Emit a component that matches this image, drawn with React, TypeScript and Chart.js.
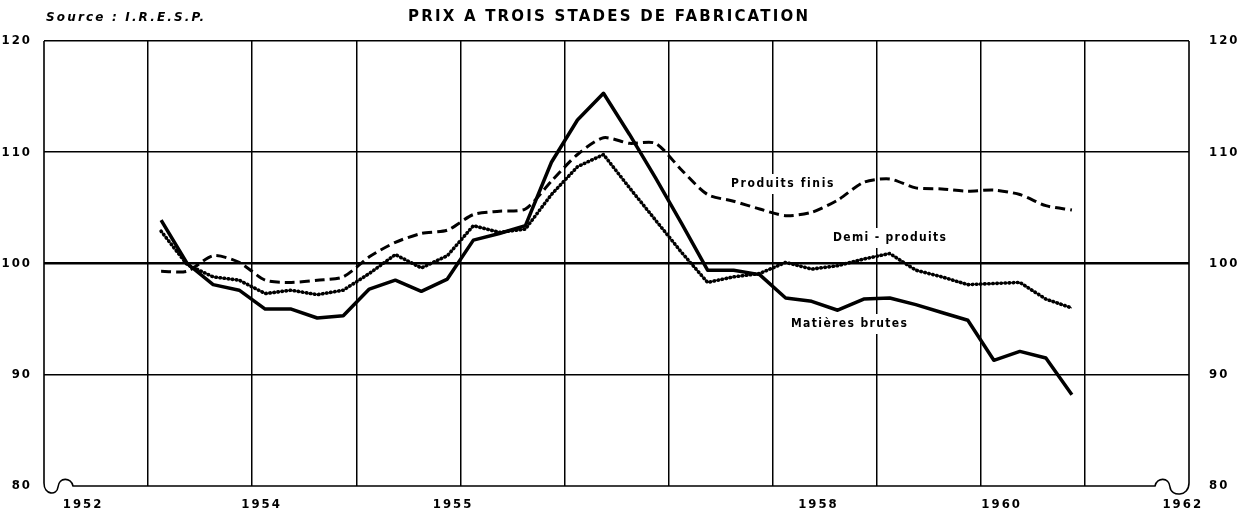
import React, { useEffect, useRef } from 'react';
import { Chart, registerables } from 'chart.js';

Chart.register(...registerables);

// ---- Data (quarterly index values) ----
const firstYear = 1953; // first plotted quarter: 1953 Q1 (plotted at mid-quarter)
const matieresBrutes = [
  103.9, 100.0, 98.1, 97.6, 95.9, 95.9, 95.1, 95.3, 97.7, 98.5, 97.5, 98.6,
  102.1, 102.7, 103.4, 109.1, 112.9, 115.3, 111.6, 107.7, 103.6, 99.4, 99.4, 99.0,
  96.9, 96.6, 95.8, 96.8, 96.9, 96.3, 95.6, 94.9, 91.3, 92.1, 91.5, 88.2,
];
const demiProduits = [
  102.9, 99.9, 98.8, 98.5, 97.3, 97.6, 97.2, 97.6, 99.1, 100.8, 99.6, 100.7,
  103.4, 102.8, 103.1, 106.2, 108.7, 109.8, 106.8, 103.9, 101.0, 98.3, 98.8, 99.1,
  100.1, 99.5, 99.8, 100.4, 100.9, 99.4, 98.8, 98.1, 98.2, 98.3, 96.8, 96.0,
];
const produitsFinis = [
  99.3, 99.3, 100.7, 100.1, 98.5, 98.3, 98.5, 98.8, 100.6, 101.9, 102.7, 103.0,
  104.4, 104.7, 104.9, 107.4, 109.8, 111.3, 110.8, 110.8, 108.4, 106.2, 105.6, 104.9,
  104.3, 104.6, 105.7, 107.3, 107.6, 106.8, 106.7, 106.5, 106.6, 106.2, 105.2, 104.8,
];
const seriesNames = ['Matières brutes', 'Demi - produits', 'Produits finis'];

// ---- Axis ticks ----
const xTickValues = [1952.375, 1954.09, 1955.93, 1959.44, 1961.2, 1962.94];
const xTickLabels = ['1952', '1954', '1955', '1958', '1960', '1962'];
const xGridYears = [1953, 1954, 1955, 1956, 1957, 1958, 1959, 1960, 1961, 1962];
const yTickValues = [80, 90, 100, 110, 120];

const titleText = 'PRIX A TROIS STADES DE FABRICATION';
const sourceText = 'Source : I.R.E.S.P.';

const FONT_FAMILY = '"Liberation Sans Narrow", "DejaVu Sans Condensed", "Liberation Sans", "DejaVu Sans", sans-serif';
const HEAD_FAMILY = '"DejaVu Sans", "Liberation Sans", sans-serif';

function toPoints(values: number[]) {
  return values.map((v, i) => ({ x: firstYear + (i + 0.5) / 4, y: v }));
}

function drawSpaced(ctx: CanvasRenderingContext2D, text: string, x: number, y: number, width: number, bg?: boolean) {
  (ctx as any).letterSpacing = '0px';
  const w0 = ctx.measureText(text).width;
  const n = Array.from(text).length;
  const sp = (width - w0) / Math.max(1, n - 1);
  if (bg) {
    ctx.save();
    ctx.fillStyle = '#fff';
    ctx.fillRect(x - 4, y - 10, width + 8, 20);
    ctx.restore();
  }
  (ctx as any).letterSpacing = sp + 'px';
  ctx.textAlign = 'left';
  ctx.textBaseline = 'middle';
  ctx.fillText(text, x, y);
  (ctx as any).letterSpacing = '0px';
}

const framePlugin = {
  id: 'frameAndLabels',
  beforeDraw(chart: any) {
    (chart.ctx as any).letterSpacing = '2px';
  },
  beforeDatasetsDraw(chart: any) {
    const ctx: CanvasRenderingContext2D = chart.ctx;
    const { left, right, top, bottom } = chart.chartArea;
    ctx.save();
    (ctx as any).letterSpacing = '0px';
    ctx.strokeStyle = '#000';
    ctx.lineWidth = 1.6;
    ctx.lineJoin = 'round';
    ctx.beginPath();
    ctx.moveTo(left, top);
    ctx.lineTo(left, bottom - 3);
    ctx.bezierCurveTo(left, bottom + 9, left + 13, bottom + 10, left + 14, bottom + 1);
    ctx.bezierCurveTo(left + 15, bottom - 9, left + 27, bottom - 9, left + 29, bottom);
    ctx.lineTo(right - 34, bottom);
    ctx.bezierCurveTo(right - 32, bottom - 9, right - 20, bottom - 9, right - 19, bottom + 1);
    ctx.bezierCurveTo(right - 18, bottom + 11, right, bottom + 11, right, bottom - 3);
    ctx.lineTo(right, top);
    ctx.stroke();

    // series annotations
    ctx.fillStyle = '#000';
    ctx.font = `bold 12px ${FONT_FAMILY}`;
    drawSpaced(ctx, seriesNames[2], 731, 184, 102, true);
    drawSpaced(ctx, seriesNames[1], 833, 238, 113, true);
    drawSpaced(ctx, seriesNames[0], 791, 324, 116, true);
    ctx.restore();
  },
  afterDraw(chart: any) {
    const ctx: CanvasRenderingContext2D = chart.ctx;
    ctx.save();
    ctx.fillStyle = '#000';
    ctx.font = `bold italic 12px ${HEAD_FAMILY}`;
    drawSpaced(ctx, sourceText, 46, 18, 158);
    ctx.font = `bold 15px ${HEAD_FAMILY}`;
    drawSpaced(ctx, titleText, 408, 17, 400);
    ctx.restore();
    (ctx as any).letterSpacing = '0px';
  },
};

export default function App() {
  const canvasRef = useRef<HTMLCanvasElement | null>(null);

  useEffect(() => {
    document.body.style.margin = '0';
    const canvas = canvasRef.current;
    if (!canvas) return;
    const tickFont = { family: FONT_FAMILY, weight: 'bold' as const, size: 13 };

    const chart = new Chart(canvas, {
      type: 'line',
      data: {
        datasets: [
          {
            label: seriesNames[2],
            data: toPoints(produitsFinis),
            borderColor: '#000',
            borderWidth: 3,
            borderDash: [10, 5],
            pointRadius: 0,
            tension: 0.25,
            xAxisID: 'x',
            yAxisID: 'y',
          },
          {
            label: seriesNames[1],
            data: toPoints(demiProduits),
            borderColor: '#000',
            borderWidth: 1,
            pointRadius: 0,
            tension: 0,
            xAxisID: 'x',
            yAxisID: 'y',
          },
          {
            label: seriesNames[1] + ' ',
            data: toPoints(demiProduits),
            borderColor: '#000',
            borderWidth: 3.6,
            borderDash: [0.5, 3.6],
            borderCapStyle: 'round',
            pointRadius: 0,
            tension: 0,
            xAxisID: 'x',
            yAxisID: 'y',
          },
          {
            label: seriesNames[0],
            data: toPoints(matieresBrutes),
            borderColor: '#000',
            borderWidth: 3.5,
            borderJoinStyle: 'round',
            pointRadius: 0,
            tension: 0,
            xAxisID: 'x',
            yAxisID: 'y',
          },
        ],
      },
      options: {
        responsive: false,
        animation: false,
        events: [],
        layout: { padding: { top: 41, left: 0, right: 0, bottom: 0 } },
        plugins: {
          legend: { display: false },
          tooltip: { enabled: false },
          title: { display: false },
        },
        scales: {
          x: {
            type: 'linear',
            position: 'bottom',
            min: 1952,
            max: 1963,
            afterBuildTicks: (s: any) => {
              s.ticks = xTickValues.map((v) => ({ value: v }));
            },
            ticks: {
              autoSkip: false,
              maxRotation: 0,
              color: '#000',
              font: tickFont,
              padding: 11,
              callback: (_v: any, i: number) => xTickLabels[i],
            },
            grid: { display: false, drawTicks: false },
            border: { display: false },
            afterFit: (s: any) => {
              s.height = 30;
            },
          },
          xg: {
            type: 'linear',
            position: 'bottom',
            min: 1952,
            max: 1963,
            afterBuildTicks: (s: any) => {
              s.ticks = xGridYears.map((v) => ({ value: v }));
            },
            ticks: { display: false },
            grid: { color: '#000', lineWidth: 1.5, drawTicks: false },
            border: { display: false },
            afterFit: (s: any) => {
              s.height = 0;
            },
          },
          y: {
            position: 'left',
            min: 80,
            max: 120,
            afterBuildTicks: (s: any) => {
              s.ticks = yTickValues.map((v) => ({ value: v }));
            },
            ticks: { color: '#000', font: tickFont, padding: 12 },
            grid: {
              drawTicks: false,
              color: (c: any) => (c.tick && c.tick.value === 80 ? 'rgba(0,0,0,0)' : '#000'),
              lineWidth: (c: any) => (c.tick && c.tick.value === 100 ? 2.5 : 1.6),
            },
            border: { display: false },
            afterFit: (s: any) => {
              s.width = 44;
            },
          },
          y2: {
            position: 'right',
            min: 80,
            max: 120,
            afterBuildTicks: (s: any) => {
              s.ticks = yTickValues.map((v) => ({ value: v }));
            },
            ticks: { color: '#000', font: tickFont, padding: 20 },
            grid: { display: false, drawTicks: false },
            border: { display: false },
            afterFit: (s: any) => {
              s.width = 53;
            },
          },
        },
      },
      plugins: [framePlugin],
    } as any);

    return () => {
      chart.destroy();
    };
  }, []);

  return (
    <div style={{ width: 1242, height: 516, background: '#fff' }}>
      <canvas ref={canvasRef} width={1242} height={516} style={{ display: 'block' }} />
    </div>
  );
}
